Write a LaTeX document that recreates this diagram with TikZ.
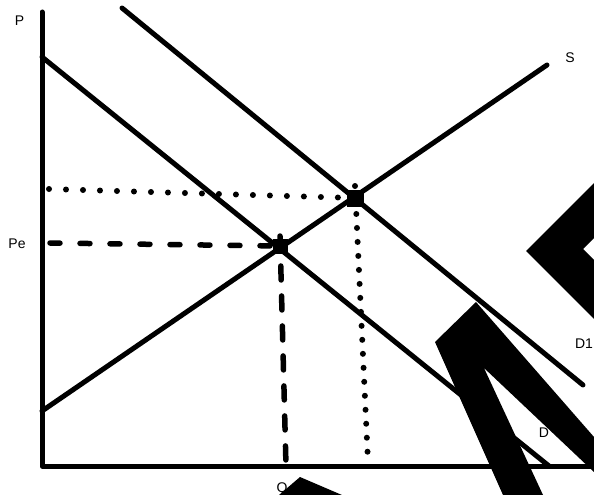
\documentclass[tikz,border=0pt]{standalone}
\usepackage{fontspec}
\setmainfont{Liberation Sans}
\begin{document}
\begin{tikzpicture}[x=1pt,y=-1pt,
  curve/.style={line width=5pt,line cap=round},
  axisline/.style={line width=5pt,line join=round,line cap=round},
  dashh/.style={line width=5.5pt,line cap=round,dash pattern=on 10pt off 20pt},
  dashv/.style={line width=5.5pt,line cap=round,dash pattern=on 14pt off 16pt},
  doth/.style={line width=6pt,line cap=round,dash pattern=on 0pt off 17pt},
  dotv/.style={line width=6pt,line cap=round,dash pattern=on 0pt off 14pt},
  lbl/.style={font=\fontsize{14}{16}\selectfont,inner sep=0pt},
  eqpt/.style={fill=black,minimum size=15pt,inner sep=0pt,draw=none,rectangle},
  blot/.style={fill=black,draw=none}]
\useasboundingbox[fill=white] (0,0) rectangle (594,495);
% coordinates
\coordinate (ytop) at (42,12);
\coordinate (orig) at (42,466);
\coordinate (xend) at (594,466);
\coordinate (d0) at (42,57);
\coordinate (d1) at (549,466);
\coordinate (dd0) at (122,8);
\coordinate (dd1) at (583,385);
\coordinate (s0) at (42,411);
\coordinate (s1) at (547,65);
\coordinate (pe) at (50,243);
\coordinate (qe) at (286,466);
\coordinate (ph) at (49,189);
\coordinate (qh) at (368,462);
% axes
\draw[axisline] (ytop) -- (orig) -- (xend);
% curves
\draw[curve] (d0) -- (d1);
\draw[curve] (dd0) -- (dd1);
\draw[curve] (s0) -- (s1);
% equilibria
\node[eqpt] (e1) at (280,246) {};
\node[eqpt,minimum size=17pt] (e2) at (355,198) {};
% guides
\draw[dashh] (pe) -- (e1.center);
\draw[dashv] ([yshift=10pt]e1.center) -- (qe);
\draw[doth] (ph) -- (e2.center);
\draw[dotv] ([yshift=12pt]e2.center) -- (qh);
% labels
\node[lbl] (lp) at (19.5,21) {P};
\node[lbl] (lpe) at (17,244) {Pe};
\node[lbl] (ls) at (570,58) {S};
\node[lbl] (ld1) at (584,344) {D1};
\node[lbl] (ld) at (544,433) {D};
\node[lbl] (lq) at (282,489) {Q};
% black overlays
\fill[blot] (435,342) -- (476,302) -- (594,437) -- (594,472) -- (484,368) -- (543,495) -- (503,495) -- cycle;
\fill[blot] (526,251) -- (594,183) -- (594,238) -- (583,249) -- (594,260) -- (594,319) -- cycle;
\fill[blot] (279,495) -- (300,477) -- (342,495) -- cycle;
\end{tikzpicture}
\end{document}
